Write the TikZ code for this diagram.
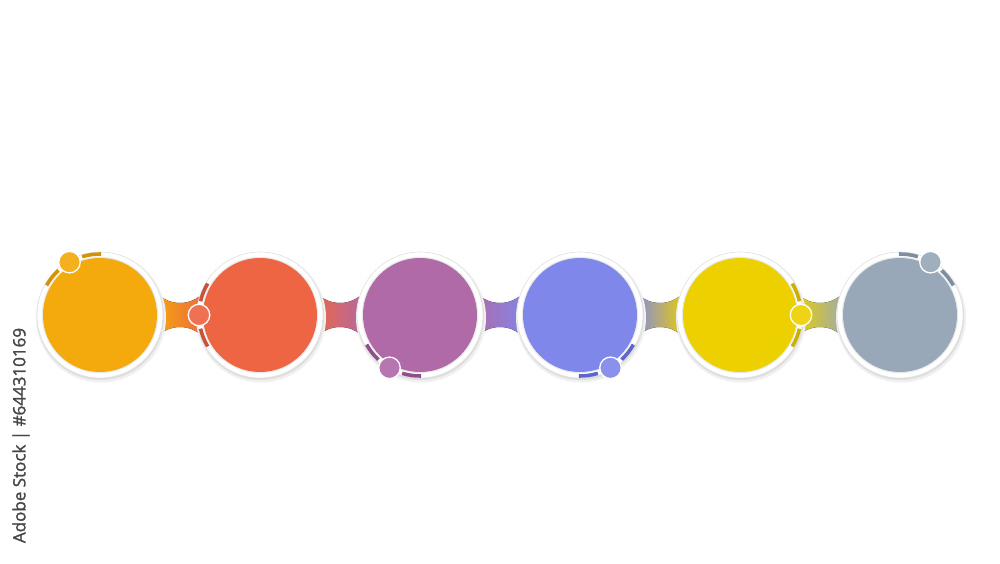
\documentclass[tikz,border=0pt]{standalone}
\usepackage{fontspec}
\newfontfamily\wmfont[FakeBold=1.6]{Open Sans}
\usetikzlibrary{calc}
\definecolor{cA}{HTML}{F4A90C}
\definecolor{cB}{HTML}{EE6544}
\definecolor{cC}{HTML}{B06AA8}
\definecolor{cD}{HTML}{7F87EB}
\definecolor{cE}{HTML}{EDD000}
\definecolor{cF}{HTML}{98A8B8}
\definecolor{dA}{HTML}{D4910A}
\definecolor{dB}{HTML}{C8523A}
\definecolor{dC}{HTML}{8E4F8A}
\definecolor{dD}{HTML}{5E66C8}
\definecolor{dE}{HTML}{C9B000}
\definecolor{dF}{HTML}{7D8EA0}
\begin{document}
\begin{tikzpicture}[x=1pt,y=1pt,
  ring/.style={circle, fill=white, draw=black!12, line width=0.6pt, minimum size=126pt, inner sep=0pt},
  disk/.style={circle, minimum size=114pt, inner sep=0pt},
  dot/.style={circle, draw=white, line width=1.3pt, minimum size=21.5pt, inner sep=0pt},
  band/.style={line width=3.6pt}]
\useasboundingbox (0,0) rectangle (1000,563);
\fill[white] (0,0) rectangle (1000,563);
% centres
\foreach \i in {1,...,6}{
  \coordinate (p\i) at ({100+160*(\i-1)},248);
}
% bridges
\foreach \i/\ca/\cb in {1/cA/cB,2/cB/cC,3/cC/cD,4/cD/cE,5/cE/cF}{
  \begin{scope}[shift={(p\i)}]
    \fill[left color=\ca, right color=\cb] (52,28.5) arc[start angle=209,end angle=331,radius=32pt]
      -- (108,-28.5) arc[start angle=29,end angle=151,radius=32pt] -- cycle;
  \end{scope}
}
% rings and disks
\foreach \i/\c/\d/\a in {1/cA/dA/120,2/cB/dB/180,3/cC/dC/240,4/cD/dD/300,5/cE/dE/0,6/cF/dF/60}{
  \fill[black!6] ($(p\i)+(1,-2.5)$) circle[radius=65pt];
  \fill[black!13] ($(p\i)+(0.5,-1.5)$) circle[radius=63.5pt];
  \node[ring] (r\i) at (p\i) {};
  \fill[black!9] (p\i) circle[radius=58.2pt];
  \node[disk, fill=\c] (k\i) at (p\i) {};
  \draw[band, \d] ($(p\i)+({\a+13}:61)$) arc[start angle=\a+13, end angle=\a+31, radius=61pt];
  \draw[band, \d] ($(p\i)+({\a-13}:61)$) arc[start angle=\a-13, end angle=\a-31, radius=61pt];
  \node[dot, fill=\c!92!white] (s\i) at ($(p\i)+(\a:61)$) {};
}
% vertical text
\node[rotate=90, text=black!72, font=\wmfont\fontsize{17}{17}\selectfont, inner sep=0pt] (wm) at (21,127.5) {Adobe Stock | \#644310169};
\end{tikzpicture}
\end{document}
